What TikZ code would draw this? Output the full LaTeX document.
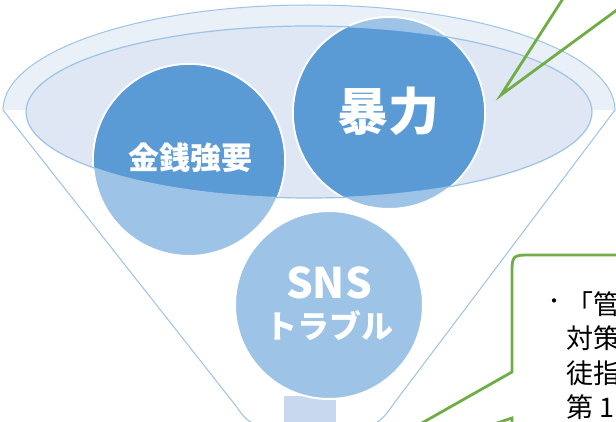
\documentclass[tikz,border=0pt]{standalone}
\usepackage{fontspec}
\newfontfamily\jpfont{Noto Sans CJK JP}
\definecolor{funnelline}{HTML}{9DC3E6}
\definecolor{rimband}{HTML}{EAF0F8}
\definecolor{mouthfill}{HTML}{DEE7F3}
\definecolor{spoutblue}{HTML}{C8D8EE}
\definecolor{balllight}{HTML}{9DC3E6}
\definecolor{balldark}{HTML}{5B9BD5}
\definecolor{notegreen}{HTML}{70AD47}

\begin{document}
\begin{tikzpicture}[x=1pt, y=-1pt,
		ball/.style={circle, draw=white, line width=2pt, fill=balllight, minimum size=192pt, inner sep=0pt},
		balltext/.style={text=white, align=center, inner sep=0pt},
		callout/.style={draw=notegreen, line width=2.8pt, line join=miter}]
			% Frame
			\useasboundingbox (0,0) rectangle (616,422);
			\clip (0,0) rectangle (616,422);
			
			% Funnel
			\coordinate (rimL) at (3,110);
			\coordinate (rimR) at (615,110);
			\coordinate (mouth) at (309,112);
			\fill[white] (rimL) arc[start angle=180, end angle=0, x radius=306pt, y radius=105pt] -- (392,406) .. controls (384,418) and (378,424) .. (366,426) -- (262,426) .. controls (250,424) and (244,418) .. (236,406) -- cycle;
			\fill[rimband] (rimL) arc[start angle=180, end angle=0, x radius=306pt, y radius=105pt] -- cycle;
			\draw[funnelline, line width=1pt] (rimL) arc[start angle=180, end angle=0, x radius=306pt, y radius=105pt] -- (392,406) .. controls (384,418) and (378,424) .. (366,426) -- (262,426) .. controls (250,424) and (244,418) .. (236,406) -- cycle;
			\fill[mouthfill] (mouth) ellipse[x radius=283pt, y radius=86pt];
			\node[fill=spoutblue, minimum width=52pt, minimum height=40pt, inner sep=0pt, anchor=north] (spout) at (310,396) {};
			
			% Balls
			\node[ball] (kinsen) at (189,160) {};
			\node[ball] (bouryoku) at (389,113) {};
			\node[ball, minimum size=188pt] (sns) at (329,305) {};
			\begin{scope}
				\clip (mouth) ellipse[x radius=283pt, y radius=86pt];
				\fill[balldark] (kinsen) circle[radius=95pt];
				\fill[balldark] (bouryoku) circle[radius=95pt];
			\end{scope}
			\draw[funnelline, line width=1.2pt] (mouth) ellipse[x radius=283pt, y radius=86pt];
			
			% Labels
			\node[balltext, font=\jpfont\bfseries\fontsize{31}{31}\selectfont] (kinsenlabel) at (190,158) {金銭強要};
			\node[balltext, font=\jpfont\bfseries\fontsize{51}{51}\selectfont] (bouryokulabel) at (388,111) {暴力};
			\node[balltext, font=\jpfont\bfseries\fontsize{42}{42}\selectfont] (snslabel) at (329,283) {SNS};
			\node[balltext, font=\jpfont\bfseries\fontsize{32}{32}\selectfont] (troublelabel) at (329,326) {トラブル};
			
			% Callouts
			\coordinate (rimtip) at (501,95);
			\coordinate (topA) at (575,-20);
			\coordinate (topB) at (640,-7);
			\draw[callout] (topA) -- (rimtip) -- (topB);
			
			\coordinate (notetip) at (316,483);
			\coordinate (noteNE) at (640,255);
			\coordinate (noteSW) at (512,450);
			\filldraw[callout, fill=white] (noteNE) -- (532,255) .. controls (512,255) .. (512,275) -- (512,372) -- (notetip) -- (512,418) -- (noteSW) -- (640,450) -- cycle;
			\node[font=\jpfont\fontsize{20}{34}\selectfont, inner sep=0pt, anchor=east] (bullet) at (565,304) {・};
			\node[font=\jpfont\fontsize{27}{34.5}\selectfont, inner sep=0pt, anchor=north west, align=left] (note) at (566,291) {「管\\対策\\徒指\\第 1};
		\end{tikzpicture}
\end{document}
